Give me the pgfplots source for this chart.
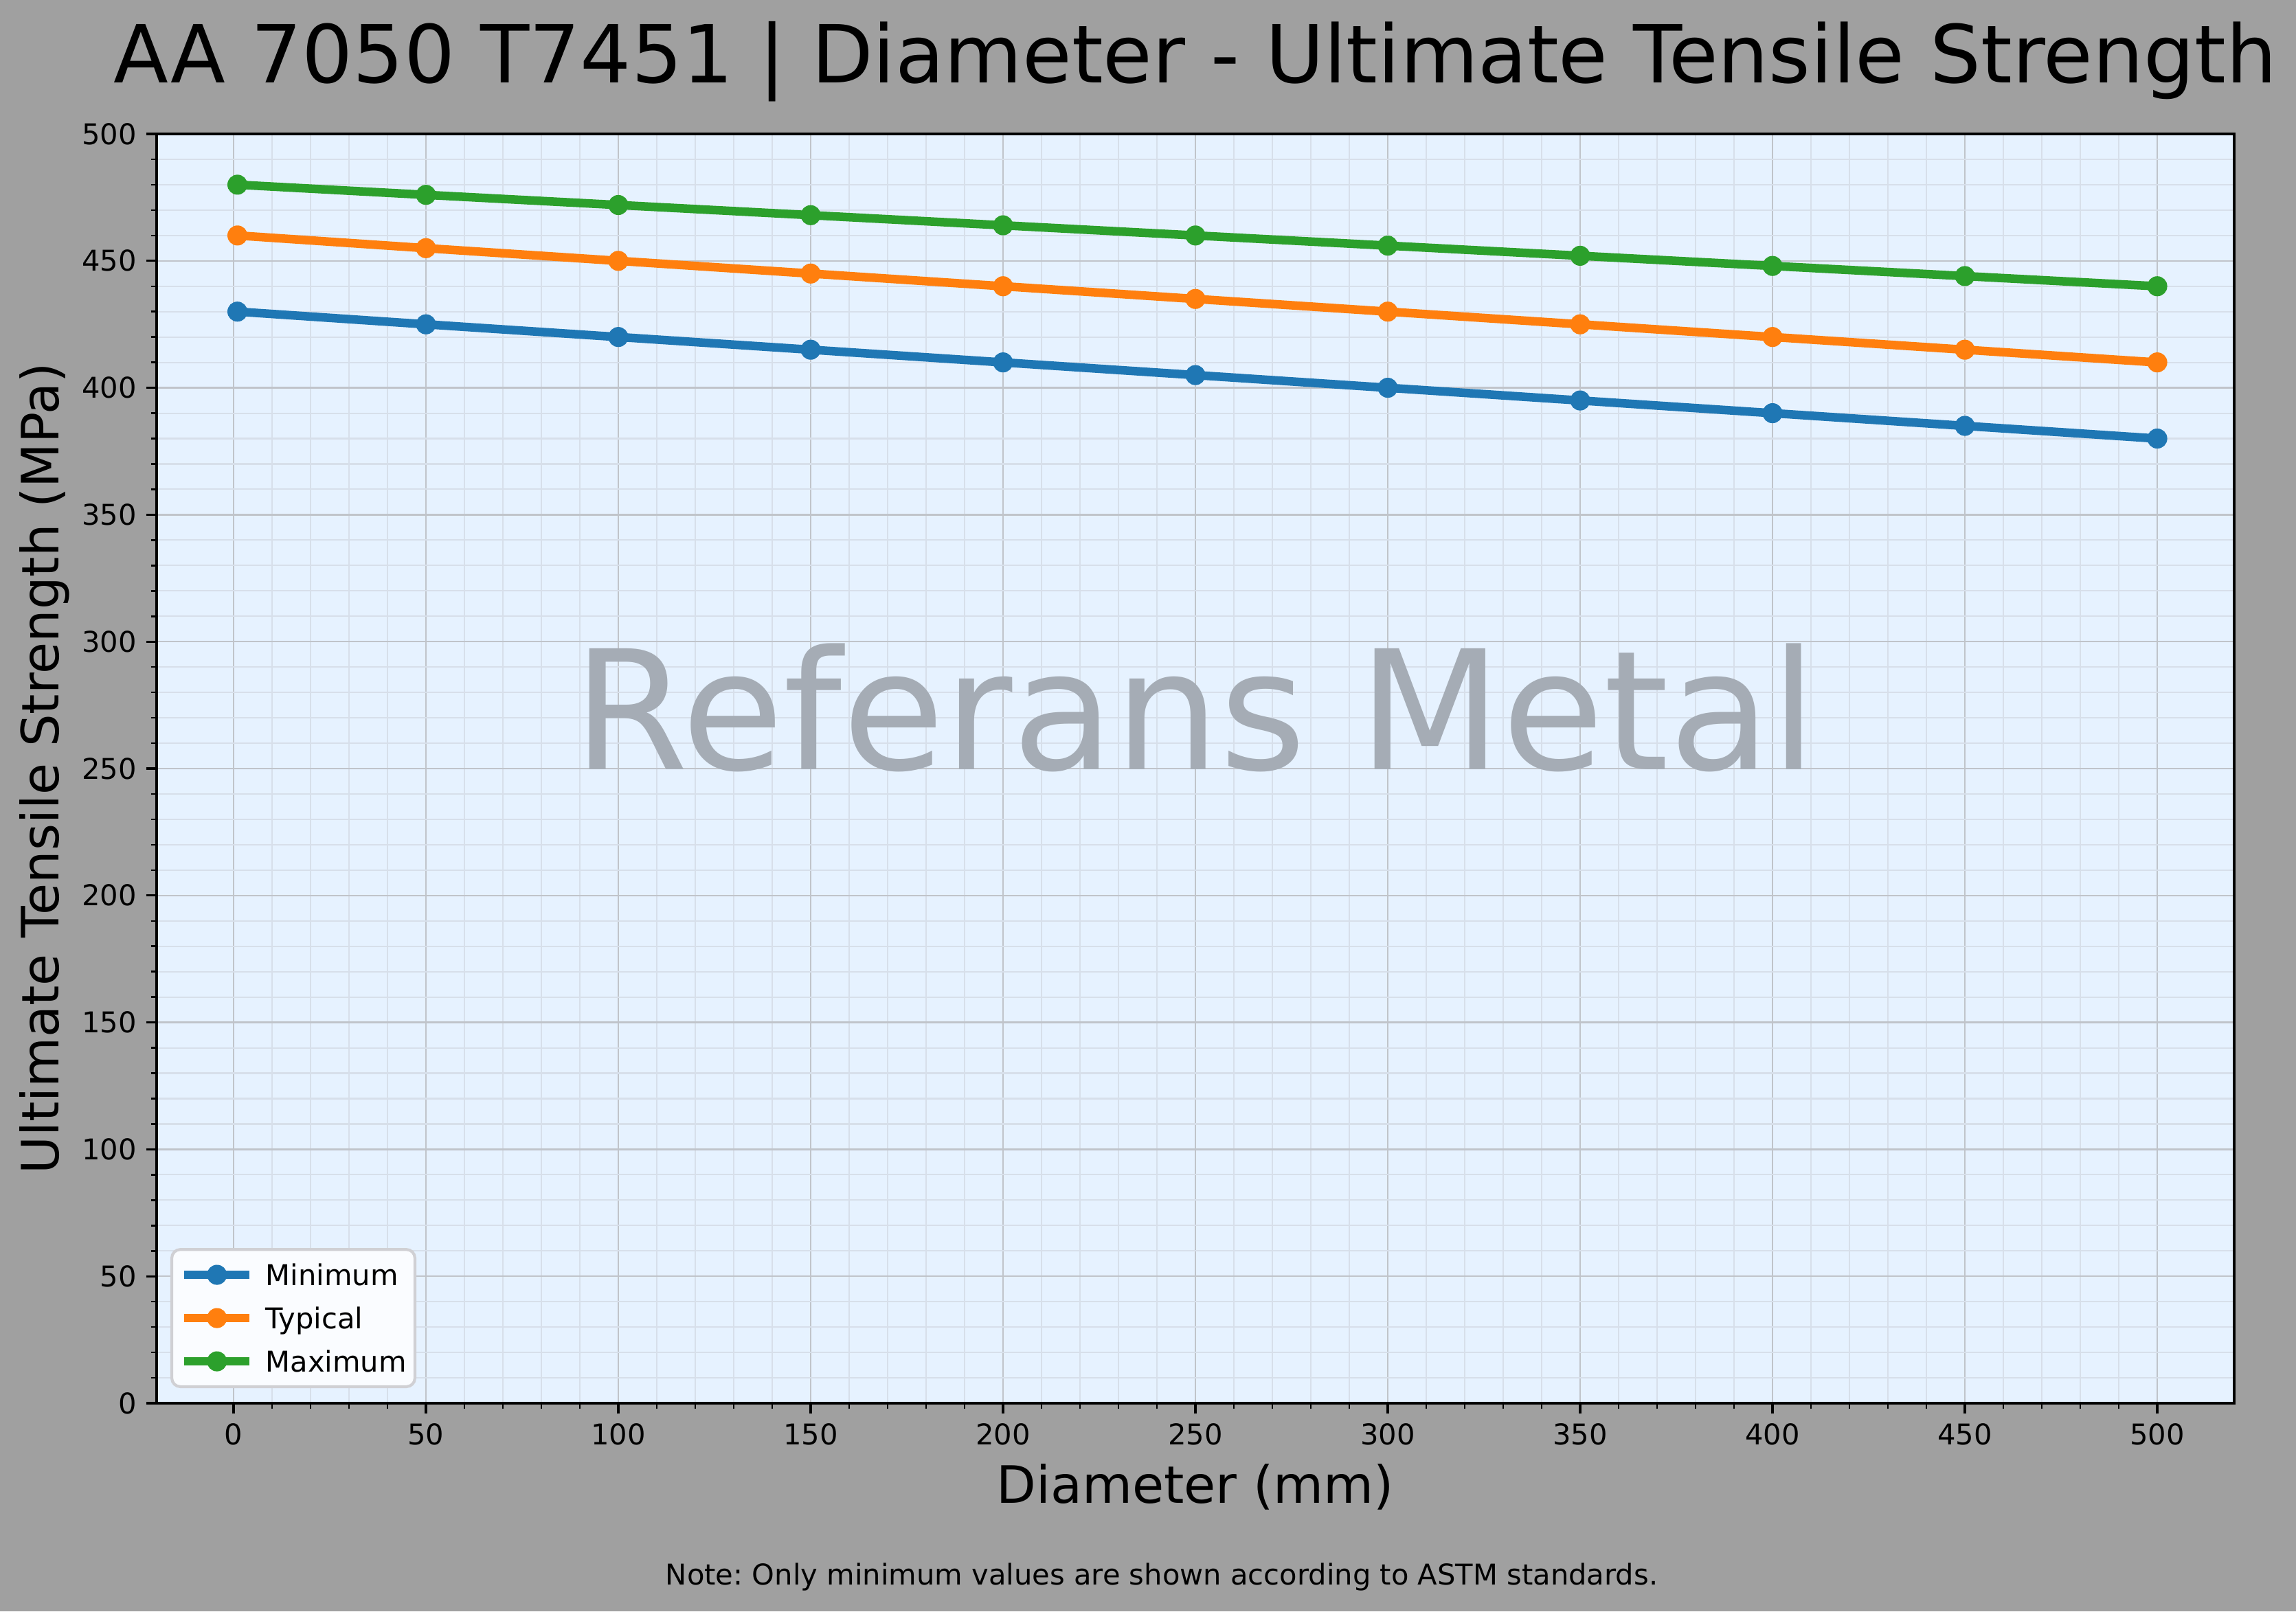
\documentclass[border=0pt]{standalone}
\usepackage{pgfplots}
\pgfplotsset{compat=1.18}
\usepackage{fontspec}
\setmainfont{DejaVu Sans}
\frenchspacing
\definecolor{figbg}{RGB}{160,160,160}
\definecolor{plotbg}{RGB}{230,242,255}
\definecolor{majgrid}{RGB}{192,196,202}
\definecolor{mingrid}{RGB}{215,223,234}
\definecolor{wm}{RGB}{165,172,181}
\definecolor{legbg}{RGB}{250,252,255}
\definecolor{legedge}{RGB}{208,208,212}
\definecolor{cmin}{HTML}{1F77B4}
\definecolor{ctyp}{HTML}{FF7F0E}
\definecolor{cmax}{HTML}{2CA02C}
\pgfplotstableread{
x y
1 430
50 425
100 420
150 415
200 410
250 405
300 400
350 395
400 390
450 385
500 380
}\tmin
\pgfplotstableread{
x y
1 460
50 455
100 450
150 445
200 440
250 435
300 430
350 425
400 420
450 415
500 410
}\ttyp
\pgfplotstableread{
x y
1 480
50 476
100 472
150 468
200 464
250 460
300 456
350 452
400 448
450 444
500 440
}\tmax
\begin{document}
\begin{tikzpicture}
\fill[figbg] (-54.72pt,-72.72pt) rectangle (747.36pt,490.32pt);
\begin{axis}[
  at={(0pt,0pt)}, anchor=south west,
  scale only axis, width=725.76pt, height=443.52pt,
  xmin=-20, xmax=520, ymin=0, ymax=500,
  xtick={0,50,...,500}, ytick={0,50,...,500},
  minor xtick={10,20,30,40,60,70,80,90,110,120,130,140,160,170,180,190,210,220,230,240,260,270,280,290,310,320,330,340,360,370,380,390,410,420,430,440,460,470,480,490},
  minor ytick={10,20,30,40,60,70,80,90,110,120,130,140,160,170,180,190,210,220,230,240,260,270,280,290,310,320,330,340,360,370,380,390,410,420,430,440,460,470,480,490},
  grid=both,
  major grid style={color=majgrid, line width=0.6pt},
  minor grid style={color=mingrid, line width=0.5pt},
  axis background/.style={fill=plotbg},
  axis line style={line width=0.8pt, black},
  tick align=outside, tick pos=left,
  major tick length=3.5pt, minor tick length=2pt,
  every major tick/.append style={black, line width=0.8pt},
  every minor tick/.append style={black, line width=0.6pt},
  tick label style={font=\fontsize{10}{12}\selectfont},
  /pgf/number format/assume math mode=true,
  scaled ticks=false,
  legend cell align=left,
  legend image code/.code={\draw[mark repeat=2,mark phase=2,#1] plot coordinates {(0pt,0pt) (11.4pt,0pt) (22.8pt,0pt)};},
  legend style={
    at={(axis description cs:0.00661,0.0119)}, anchor=south west,
    fill=legbg, draw=legedge, line width=1pt, rounded corners=3pt,
    font=\fontsize{10}{12}\selectfont,
    inner xsep=2.88pt, inner ysep=4.2pt,
    row sep=5.82pt,
    nodes={inner sep=0pt, text height=8.3pt, text depth=1pt},
    /tikz/every odd column/.append style={column sep=4.1pt},
  },
]
\node[font=\fontsize{58}{70}\selectfont, text=wm, anchor=base] at (rel axis cs:0.5,0.499) {Referans Metal};
\addplot[color=cmin, line width=3pt, line join=round, mark=*, mark size=3.3pt, mark options={solid, fill=cmin, line width=0.4pt}] table[x=x,y=y] {\tmin};
\addlegendentry{Minimum}
\addplot[color=ctyp, line width=3pt, line join=round, mark=*, mark size=3.3pt, mark options={solid, fill=ctyp, line width=0.4pt}] table[x=x,y=y] {\ttyp};
\addlegendentry{Typical}
\addplot[color=cmax, line width=3pt, line join=round, mark=*, mark size=3.3pt, mark options={solid, fill=cmax, line width=0.4pt}] table[x=x,y=y] {\tmax};
\addlegendentry{Maximum}
\end{axis}
\node[anchor=base, font=\fontsize{28}{34}\selectfont] at (362.88pt,461.28pt) {AA 7050 T7451 | Diameter - Ultimate Tensile Strength};
\node[anchor=base, font=\fontsize{18}{22}\selectfont] at (362.88pt,-34.8pt) {Diameter (mm)};
\node[anchor=base, rotate=90, font=\fontsize{18}{22}\selectfont] at (-34.08pt,221.76pt) {Ultimate Tensile Strength (MPa)};
\node[anchor=base, font=\fontsize{10}{12}\selectfont] at (351.12pt,-63.36pt) {Note: Only minimum values are shown according to ASTM standards.};
\pgfresetboundingbox
\useasboundingbox (-54.72pt,-72.72pt) rectangle (747.36pt,490.32pt);
\end{tikzpicture}
\end{document}
